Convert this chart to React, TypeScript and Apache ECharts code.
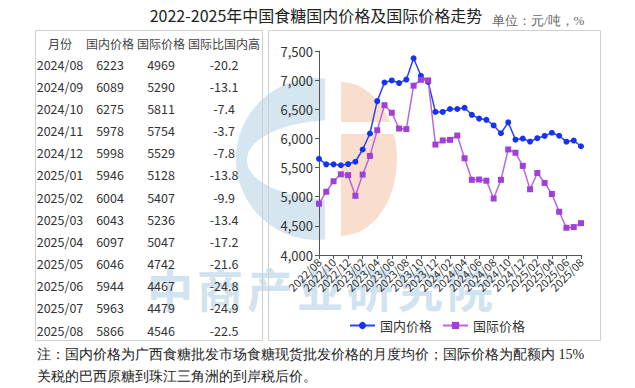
import React, { useEffect, useRef } from "react";
import * as echarts from "echarts";

const months: string[] = [
  "2022/08", "2022/09", "2022/10", "2022/11", "2022/12",
  "2023/01", "2023/02", "2023/03", "2023/04", "2023/05", "2023/06",
  "2023/07", "2023/08", "2023/09", "2023/10", "2023/11", "2023/12",
  "2024/01", "2024/02", "2024/03", "2024/04", "2024/05", "2024/06",
  "2024/07", "2024/08", "2024/09", "2024/10", "2024/11", "2024/12",
  "2025/01", "2025/02", "2025/03", "2025/04", "2025/05", "2025/06",
  "2025/07", "2025/08",
];

const domestic: number[] = [
  5650, 5555, 5555, 5540, 5560, 5600, 5810, 6085, 6640, 6960, 6995, 6950,
  7010, 7375, 7075, 6970, 6455, 6455, 6505, 6505, 6525, 6405, 6340, 6320,
  6223, 6089, 6275, 5978, 5998, 5946, 6004, 6043, 6097, 6046, 5944, 5963, 5866,
];

const international: number[] = [
  4880, 5085, 5265, 5385, 5370, 5015, 5380, 5700, 6140, 6570, 6440, 6170,
  6160, 6905, 7005, 6995, 5895, 5965, 5975, 6050, 5660, 5290, 5295, 5275,
  4969, 5290, 5811, 5754, 5529, 5128, 5407, 5236, 5047, 4742, 4467, 4479, 4546,
];

const ratioPct: number[] = [
  -20.2, -13.1, -7.4, -3.7, -7.8, -13.8, -9.9, -13.4, -17.2, -21.6, -24.8, -24.9, -22.5,
];

const tableHeaders: string[] = ["月份", "国内价格", "国际价格", "国际比国内高"];
const seriesNames: string[] = ["国内价格", "国际价格"];
const yTicks = { min: 4000, max: 7500, interval: 500 };

const titleText = "2022-2025年中国食糖国内价格及国际价格走势";
const unitText = "单位：元/吨，%";
const noteLines: string[] = [
  "注：国内价格为广西食糖批发市场食糖现货批发价格的月度均价；国际价格为配额内 15%",
  "关税的巴西原糖到珠江三角洲的到岸税后价。",
];
const watermarkChars: string[] = ["中", "商", "产", "业", "研", "究", "院"];

// watermark logo shapes
const cPath =
  "M 325 78.4 A 81 81 0 1 0 325 239.6 L 325 199.7 A 89 40 0 0 1 325 120.3 Z";
const dTopPath = "M 341 82 A 56 77 0 0 1 390.1 122 L 341 122 Z";
const dBotPath = "M 341 134 L 394 134 A 56 77 0 0 1 341 236 Z";
echarts.graphic.registerShape("wmC", echarts.graphic.extendPath(cPath, {}));
echarts.graphic.registerShape("wmDTop", echarts.graphic.extendPath(dTopPath, {}));
echarts.graphic.registerShape("wmDBot", echarts.graphic.extendPath(dBotPath, {}));

const CJK = "'Noto Sans CJK SC', 'Noto Sans', sans-serif";
const everyOther = (idx: number) => idx % 2 === 0;

export default function App() {
  const ref = useRef<HTMLDivElement>(null);

  useEffect(() => {
    if (!ref.current) return;
    const chart = echarts.init(ref.current, null, { renderer: "svg" });

    const n = ratioPct.length;
    const tMonths = months.slice(-n);
    const tDom = domestic.slice(-n);
    const tInt = international.slice(-n);
    const colX = [60, 110, 161, 224];
    const rowY0 = 64;
    const rowH = 22.17;

    const tableTexts: any[] = [];
    tableHeaders.forEach((h, c) => {
      tableTexts.push({
        type: "text",
        x: colX[c],
        y: 43,
        z: 5,
        style: {
          text: h,
          fill: "#444",
          font: `12px ${CJK}`,
          textAlign: "center",
          textVerticalAlign: "middle",
        },
      });
    });
    for (let i = 0; i < n; i++) {
      const cells = [tMonths[i], String(tDom[i]), String(tInt[i]), ratioPct[i].toFixed(1)];
      cells.forEach((t, c) => {
        tableTexts.push({
          type: "text",
          x: colX[c],
          y: rowY0 + i * rowH,
          z: 5,
          style: {
            text: t,
            fill: "#333",
            font: `12.5px ${CJK}`,
            textAlign: "center",
            textVerticalAlign: "middle",
          },
        });
      });
    }

    const watermark: any[] = [
      { type: "wmC", x: 0, y: 0, z: -10, silent: true, style: { fill: "#d5e6f0" } },
      { type: "wmDTop", x: 0, y: 0, z: -10, silent: true, style: { fill: "#f9ddcd" } },
      { type: "wmDBot", x: 0, y: 0, z: -10, silent: true, style: { fill: "#f9ddcd" } },
      ...watermarkChars.map((ch, i) => ({
        type: "text",
        x: 170 + i * 50,
        y: 287,
        z: -10,
        silent: true,
        style: {
          text: ch,
          fill: "#d0e3ef",
          font: `bold 46px ${CJK}`,
          textAlign: "center",
          textVerticalAlign: "middle",
        },
      })),
    ];

    const option: any = {
      animation: false,
      backgroundColor: "#ffffff",
      color: ["#1a3cf7", "#a545d8"],
      legend: {
        data: seriesNames,
        left: 344,
        top: 314,
        itemWidth: 25,
        itemHeight: 9,
        itemGap: 10,
        textStyle: { fontSize: 13, color: "#333", fontFamily: CJK },
      },
      grid: { left: 319, right: 54, top: 51, bottom: 133, containLabel: false },
      xAxis: {
        type: "category",
        data: months,
        boundaryGap: false,
        axisLine: { lineStyle: { color: "#555" } },
        axisTick: { show: true, length: 4, interval: everyOther, lineStyle: { color: "#555" } },
        axisLabel: {
          interval: 0,
          rotate: 45,
          fontSize: 11,
          color: "#333",
          margin: 5,
          fontFamily: CJK,
          showMinLabel: true,
          showMaxLabel: true,
          hideOverlap: false,
          formatter: (v: string, idx: number) => (idx % 2 === 0 ? v : ""),
        },
      },
      yAxis: {
        type: "value",
        min: yTicks.min,
        max: yTicks.max,
        interval: yTicks.interval,
        splitLine: { show: false },
        axisLine: { show: true, lineStyle: { color: "#555" } },
        axisTick: { show: true, length: 4, lineStyle: { color: "#555" } },
        axisLabel: {
          fontSize: 13,
          color: "#333",
          margin: 6,
          fontFamily: CJK,
          formatter: (v: number) => v.toLocaleString("en-US"),
        },
      },
      series: [
        {
          name: seriesNames[0],
          type: "line",
          data: domestic,
          symbol: "circle",
          symbolSize: 6,
          showAllSymbol: true,
          z: 3,
          lineStyle: { width: 1.5, color: "#2a45f5" },
          itemStyle: { color: "#1633f5" },
        },
        {
          name: seriesNames[1],
          type: "line",
          data: international,
          symbol: "rect",
          symbolSize: 6,
          showAllSymbol: true,
          z: 3,
          lineStyle: { width: 1.5, color: "#b766e2" },
          itemStyle: { color: "#a040d6" },
        },
      ],
      graphic: [
        ...watermark,
        {
          type: "rect",
          z: 1,
          silent: true,
          shape: { x: 35.5, y: 30.5, width: 227, height: 310 },
          style: { fill: "none", stroke: "#cfcfcf", lineWidth: 1 },
        },
        {
          type: "rect",
          z: 1,
          silent: true,
          shape: { x: 268.5, y: 30.5, width: 332, height: 310 },
          style: { fill: "none", stroke: "#cfcfcf", lineWidth: 1 },
        },
        ...tableTexts,
        {
          type: "text",
          x: 316,
          y: 15,
          z: 5,
          style: {
            text: titleText,
            fill: "#222",
            font: `16px ${CJK}`,
            textAlign: "center",
            textVerticalAlign: "middle",
          },
        },
        {
          type: "text",
          x: 492,
          y: 20,
          z: 5,
          style: {
            text: unitText,
            fill: "#666",
            font: "13px serif",
            textAlign: "left",
            textVerticalAlign: "middle",
          },
        },
        ...noteLines.map((t, i) => ({
          type: "text",
          x: 37,
          y: 354 + i * 22,
          z: 5,
          style: {
            text: t,
            fill: "#222",
            font: "14px serif",
            textAlign: "left",
            textVerticalAlign: "middle",
          },
        })),
      ],
    };

    chart.setOption(option);
    return () => chart.dispose();
  }, []);

  return (
    <div
      ref={ref}
      style={{ position: "fixed", left: 0, top: 0, width: 635, height: 388 }}
    />
  );
}
